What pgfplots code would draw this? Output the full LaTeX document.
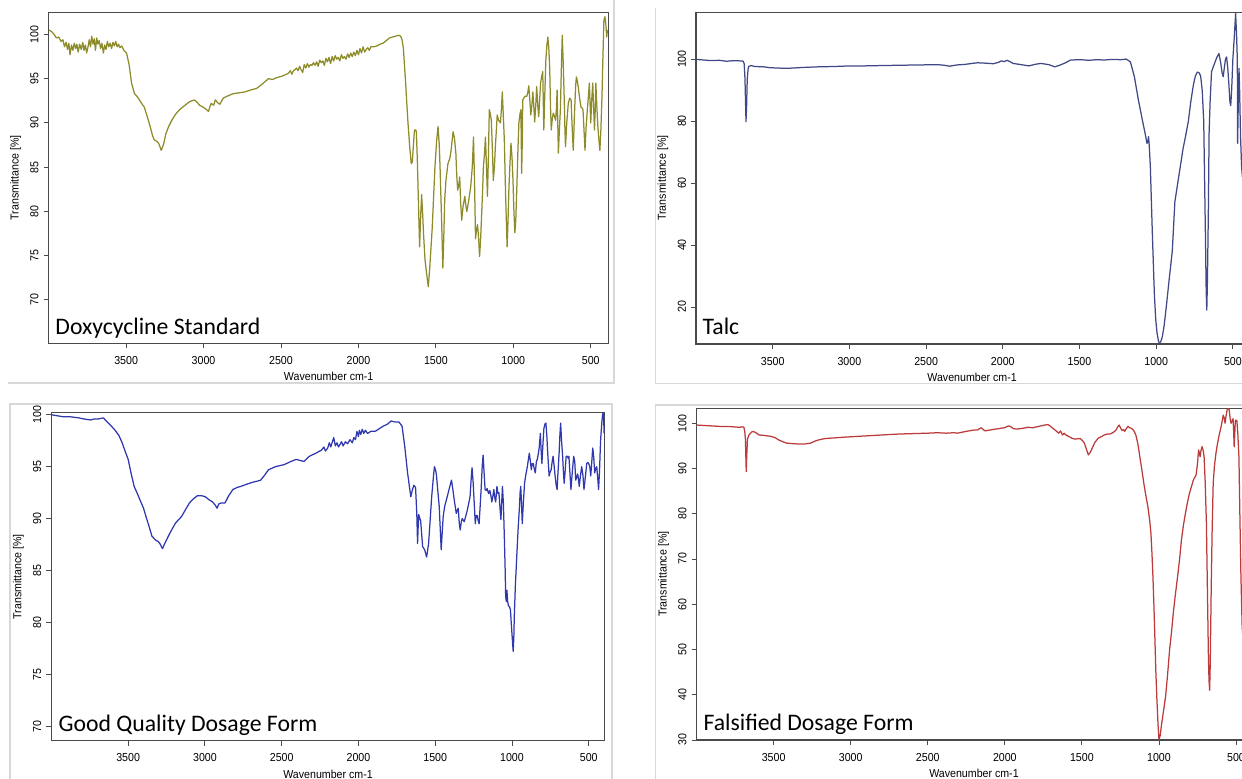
\documentclass[border=0pt]{standalone}
\usepackage{fontspec}
\setmainfont{Liberation Sans}[FakeStretch=0.92]
\newfontfamily\calibri{Carlito}
\usepackage{pgfplots}
\pgfplotsset{compat=1.18}

\definecolor{framegray}{HTML}{D8D8D8}
\definecolor{axgray}{HTML}{4A4A4A}
\definecolor{doxy}{HTML}{8E8C2A}
\definecolor{talc}{HTML}{404985}
\definecolor{good}{HTML}{3038B0}
\definecolor{fals}{HTML}{BC3A3A}

\newcommand\irlabfont{\fontsize{11.6}{13}\selectfont}
\newcommand\irtitlefont{\calibri\fontsize{23.8}{26}\selectfont}

\pgfplotsset{
  ir/.style={
    scale only axis, anchor=south west,
    x dir=reverse,
    tick pos=left, tick align=outside,
    major tick length=5bp,
    axis line style={axgray, line width=1.3bp},
    tick style={axgray, line width=0.9bp},
    xtick={500,1000,...,3500},
    /pgf/number format/assume math mode=true,
    /pgf/number format/1000 sep={},
    xticklabel={\irlabfont\pgfmathprintnumber{\tick}},
    yticklabel={\irlabfont\pgfmathprintnumber{\tick}},
    xticklabel shift=4.5bp,
    yticklabel shift=1.6bp,
    yticklabel style={rotate=90, anchor=south},
    xlabel={\irlabfont Wavenumber cm-1},
    ylabel={\irlabfont Transmittance [\%]},
    every axis x label/.style={at={([yshift=-33.4bp]axis description cs:0.5,0)}, anchor=center},
    every axis y label/.style={at={([xshift=-33bp]axis description cs:0,0.5)}, rotate=90, anchor=center},
    every axis plot/.append style={line width=1.25bp, line join=round, mark=none},
  }
}

\begin{document}
\begin{tikzpicture}[x=1bp, y=1bp]

% Doxycycline standard
\begin{axis}[ir, at={(48.7bp,435.7bp)}, width=560bp, height=331bp,
  xmin=384, xmax=4000, ymin=65.1, ymax=102.5, ytick={70,75,...,100}]
\addplot[doxy] coordinates {
(3998,100.5) (3980,100.3) (3965,100.0) (3950,99.6) (3935,99.7) (3920,99.2) (3908,99.4) (3898,98.6) (3888,99.1) (3878,98.3) (3870,99.0) (3862,97.7) (3853,98.8) (3844,98.2) (3835,99.0) (3826,98.4) (3818,98.9) (3810,98.0) (3800,98.9) (3790,98.3) (3780,99.1) (3772,98.2) (3763,98.8) (3755,97.9) (3746,98.6) (3738,99.4) (3730,98.6) (3722,99.8) (3714,98.9) (3706,99.5) (3698,98.2) (3690,99.6) (3682,98.9) (3674,99.3) (3665,98.4) (3656,99.0) (3647,97.9) (3638,98.8) (3630,98.3) (3621,99.2) (3612,98.6) (3603,99.0) (3594,98.4) (3585,99.1) (3576,98.7) (3567,99.2) (3558,98.6) (3549,98.9) (3540,98.5) (3528,98.7) (3515,98.2) (3497,97.9) (3480,96.5) (3465,94.5) (3446,93.3) (3430,93.0) (3421,92.8) (3400,92.2) (3383,91.8) (3365,90.8) (3345,89.6) (3330,88.6) (3319,88.1) (3300,87.9) (3290,87.7) (3273,86.9) (3258,87.6) (3243,88.8) (3225,89.6) (3205,90.3) (3180,91.0) (3154,91.5) (3120,92.0) (3090,92.4) (3059,92.6) (3040,92.3) (3026,92.0) (3005,91.8) (2988,91.6) (2968,91.3) (2958,91.9) (2950,92.2) (2935,92.0) (2924,92.6) (2910,92.3) (2895,92.1) (2873,92.8) (2850,93.0) (2810,93.3) (2770,93.4) (2733,93.5) (2700,93.7) (2657,93.9) (2620,94.4) (2581,95.0) (2555,94.9) (2530,95.1) (2490,95.3) (2453,95.6) (2440,95.9) (2430,95.5) (2420,95.9) (2410,96.0) (2400,96.2) (2390,95.9) (2380,96.4) (2370,96.0) (2360,95.7) (2350,96.6) (2340,96.2) (2330,96.7) (2320,96.3) (2310,96.6) (2300,96.5) (2290,96.8) (2280,96.5) (2270,96.9) (2260,96.4) (2250,97.1) (2240,96.8) (2230,97.0) (2220,96.5) (2210,97.3) (2200,96.9) (2190,97.4) (2180,96.7) (2170,97.5) (2160,97.0) (2150,97.6) (2140,97.2) (2130,97.4) (2120,97.0) (2110,97.7) (2100,97.3) (2090,97.5) (2080,97.2) (2070,97.8) (2060,97.4) (2050,97.9) (2040,97.5) (2030,98.0) (2020,97.6) (2010,98.2) (2000,97.7) (1990,98.4) (1980,97.9) (1970,98.6) (1960,98.0) (1950,98.3) (1940,98.5) (1930,98.2) (1920,98.6) (1900,98.6) (1880,98.7) (1860,98.9) (1842,99.0) (1820,99.3) (1800,99.6) (1780,99.7) (1760,99.8) (1740,99.9) (1728,99.8) (1720,99.5) (1710,98.5) (1702,96.3) (1695,94.5) (1689,92.6) (1680,90.0) (1669,87.3) (1659,85.4) (1652,85.6) (1645,87.5) (1638,89.2) (1630,89.2) (1626,89.0) (1620,86.0) (1613,81.3) (1605,76.0) (1598,79.5) (1592,81.9) (1586,80.0) (1580,77.6) (1570,74.5) (1560,73.0) (1549,71.5) (1540,73.5) (1524,78.0) (1506,85.0) (1495,88.0) (1486,89.6) (1478,87.5) (1473,85.0) (1463,79.0) (1455,73.6) (1449,77.0) (1443,81.3) (1435,83.5) (1422,85.4) (1410,86.0) (1404,86.6) (1395,88.0) (1389,89.0) (1380,88.3) (1371,86.6) (1365,84.0) (1359,82.4) (1352,83.0) (1346,83.9) (1340,81.0) (1333,79.0) (1325,80.5) (1313,81.7) (1305,80.5) (1300,80.0) (1290,81.0) (1275,82.8) (1265,85.0) (1257,88.4) (1250,83.0) (1244,76.9) (1237,78.0) (1231,78.5) (1224,77.0) (1218,74.9) (1212,76.5) (1205,79.4) (1199,82.0) (1193,85.1) (1186,86.5) (1180,88.4) (1173,85.0) (1167,81.7) (1161,86.0) (1155,91.5) (1148,91.0) (1142,90.3) (1135,87.0) (1129,83.5) (1122,85.0) (1116,87.3) (1110,89.0) (1104,90.9) (1095,90.3) (1083,90.0) (1077,91.5) (1071,93.5) (1065,91.0) (1058,88.1) (1050,82.0) (1040,76.0) (1034,79.0) (1028,82.8) (1020,86.0) (1015,87.7) (1008,86.0) (1002,83.5) (996,80.0) (990,77.6) (984,79.0) (977,82.8) (970,87.0) (964,90.0) (957,91.0) (951,91.5) (946,84.3) (942,88.0) (939,92.6) (925,93.0) (913,93.0) (906,93.5) (900,94.2) (893,92.5) (887,90.9) (880,92.0) (874,93.5) (868,92.0) (862,90.1) (855,92.0) (849,94.1) (842,92.0) (836,90.7) (830,92.5) (824,94.5) (817,95.2) (810,95.8) (806,92.0) (803,89.2) (797,93.0) (790,97.1) (783,98.8) (777,99.7) (771,98.5) (765,96.3) (760,92.0) (755,89.2) (748,90.5) (742,91.1) (735,90.8) (727,90.3) (722,91.5) (717,93.7) (713,90.0) (709,86.6) (703,89.0) (696,91.5) (690,96.0) (684,99.9) (678,97.0) (671,92.6) (667,89.5) (663,87.3) (655,90.0) (645,92.2) (636,92.8) (627,92.6) (620,89.5) (613,86.9) (605,91.0) (598,94.0) (593,95.2) (587,94.8) (581,94.1) (572,92.8) (563,91.8) (556,91.7) (550,91.5) (543,89.0) (537,86.9) (530,89.5) (522,91.5) (515,93.0) (509,94.5) (504,92.0) (500,90.0) (494,92.5) (487,94.5) (481,91.5) (476,89.2) (471,91.5) (467,94.5) (461,92.0) (454,89.6) (447,88.0) (441,86.9) (435,89.0) (428,92.6) (422,97.0) (415,101.6) (408,102.0) (402,101.0) (397,99.7) (392,100.5)
};
\end{axis}

% Talc
\begin{axis}[ir, at={(696bp,435bp)}, width=552.2bp, height=331.7bp,
  xmin=400, xmax=4000, ymin=8.06, ymax=115.1, ytick={20,40,...,100}]
\addplot[talc] coordinates {
(3998,99.9) (3950,99.7) (3900,99.5) (3850,99.6) (3800,99.3) (3750,99.5) (3710,99.4) (3694,99.4) (3686,98.5) (3681,94.0) (3676,84.0) (3674,79.8) (3670,85.0) (3666,93.5) (3660,97.0) (3655,97.7) (3640,97.9) (3617,97.6) (3560,97.5) (3513,97.2) (3460,97.1) (3409,97.0) (3300,97.3) (3202,97.5) (3100,97.6) (2995,97.8) (2900,97.8) (2800,97.9) (2684,98.0) (2550,98.1) (2425,98.2) (2380,98.0) (2347,97.7) (2300,98.1) (2244,98.3) (2200,98.6) (2166,98.8) (2120,98.7) (2062,98.5) (2030,98.9) (2010,99.4) (1990,99.2) (1972,99.6) (1950,99.1) (1933,98.6) (1880,98.2) (1829,97.8) (1790,98.3) (1751,98.6) (1700,98.2) (1661,97.5) (1630,98.0) (1596,98.7) (1557,99.7) (1492,99.8) (1440,99.6) (1389,99.8) (1340,99.7) (1285,99.9) (1230,99.8) (1195,100.0) (1168,99.1) (1142,94.3) (1116,86.8) (1090,80.3) (1072,76.0) (1060,72.8) (1054,73.5) (1050,75.0) (1045,72.0) (1038,65.3) (1025,43.8) (1012,24.4) (1003,16.0) (994,11.5) (985,9.0) (979,8.3) (970,8.8) (960,10.4) (948,14.0) (934,20.1) (915,29.0) (895,38.0) (878,54.0) (850,63.0) (825,71.0) (805,76.0) (790,80.0) (775,86.0) (758,91.5) (745,94.5) (732,95.8) (720,95.6) (710,94.5) (700,90.0) (690,80.0) (684,60.0) (678,40.0) (674,25.0) (670,19.0) (666,28.0) (660,50.0) (655,76.0) (648,86.8) (639,95.9) (628,97.5) (617,98.9) (605,100.5) (591,101.8) (580,99.0) (570,95.5) (563,94.3) (555,97.5) (548,100.0) (541,100.7) (533,97.0) (525,91.0) (519,86.0) (514,85.0) (508,90.0) (500,100.0) (491,107.0) (482,114.7) (476,108.0) (471,100.0) (469,72.8) (465,85.0) (460,97.0) (456,90.0) (450,75.0) (443,65.3) (438,62.0) (430,70.0) (420,80.0) (410,85.0) (400,88.0)
};
\end{axis}

% Good quality dosage form
\begin{axis}[ir, at={(51.4bp,38.3bp)}, width=553.3bp, height=328bp,
  xmin=396, xmax=4000, ymin=68.6, ymax=100.2, ytick={70,75,...,100}]
\addplot[good] coordinates {
(4000,100) (3960,99.9) (3920,99.8) (3873,99.8) (3822,99.7) (3790,99.6) (3745,99.5) (3720,99.6) (3693,99.6) (3662,99.7) (3629,99.2) (3590,98.6) (3560,98.0) (3539,97.3) (3520,96.5) (3500,95.7) (3480,94.3) (3461,93.1) (3440,92.4) (3423,91.8) (3400,91.0) (3384,90.2) (3365,89.3) (3345,88.3) (3320,87.9) (3305,87.8) (3294,87.6) (3276,87.1) (3265,87.5) (3255,87.8) (3235,88.4) (3217,88.9) (3190,89.6) (3152,90.2) (3125,90.9) (3101,91.5) (3075,91.9) (3049,92.2) (3020,92.2) (2998,92.1) (2972,91.8) (2950,91.6) (2933,91.3) (2921,91.0) (2910,91.4) (2895,91.5) (2869,91.5) (2845,92.2) (2818,92.8) (2790,93.0) (2766,93.1) (2730,93.3) (2689,93.5) (2660,93.6) (2637,93.7) (2610,94.2) (2586,94.7) (2540,95.0) (2483,95.2) (2440,95.5) (2406,95.7) (2380,95.6) (2354,95.5) (2320,96.0) (2277,96.3) (2240,96.6) (2225,96.9) (2215,96.5) (2200,96.8) (2190,97.3) (2180,96.9) (2170,97.4) (2161,97.8) (2150,97.0) (2140,97.3) (2130,96.9) (2122,97.1) (2110,97.4) (2100,97.0) (2085,97.4) (2071,97.2) (2055,97.6) (2040,97.3) (2030,97.8) (2019,97.6) (2010,98.4) (2000,97.9) (1994,98.5) (1985,98.1) (1975,98.6) (1965,98.2) (1955,98.5) (1940,98.2) (1920,98.4) (1891,98.4) (1860,98.7) (1839,98.9) (1810,99.1) (1788,99.4) (1760,99.3) (1736,99.3) (1716,98.9) (1698,96.9) (1680,94.4) (1659,92.1) (1648,92.8) (1639,93.2) (1628,93.0) (1620,90.5) (1615,87.6) (1608,90.4) (1600,90.0) (1595,89.8) (1588,88.5) (1582,87.3) (1569,87.0) (1556,86.3) (1543,87.6) (1530,90.5) (1523,92.1) (1510,94.3) (1505,95.0) (1498,94.7) (1492,94.2) (1482,92.5) (1474,91.2) (1461,87.0) (1455,88.5) (1448,90.2) (1438,91.2) (1427,91.8) (1410,92.8) (1394,93.7) (1385,92.8) (1376,91.8) (1363,90.5) (1356,90.8) (1350,91.0) (1343,89.5) (1337,88.9) (1330,89.7) (1324,90.0) (1311,89.7) (1300,90.3) (1291,90.8) (1280,91.6) (1273,92.1) (1265,94.0) (1260,94.9) (1253,93.5) (1247,91.8) (1239,89.5) (1233,90.3) (1227,90.3) (1220,89.8) (1214,89.5) (1208,91.0) (1201,92.8) (1194,95.0) (1188,96.1) (1182,94.5) (1175,92.8) (1168,92.7) (1162,92.9) (1152,92.4) (1144,92.7) (1137,92.2) (1131,91.6) (1124,92.2) (1118,92.8) (1112,92.0) (1106,91.6) (1098,93.1) (1091,92.4) (1085,92.5) (1078,91.0) (1072,89.9) (1067,91.5) (1062,93.1) (1056,91.5) (1051,88.9) (1045,85.5) (1041,82.5) (1037,82.0) (1033,83.1) (1028,82.0) (1023,81.6) (1016,81.5) (1010,81.2) (1005,80.0) (1000,78.9) (996,78.0) (992,77.2) (988,78.5) (985,80.5) (978,83.5) (969,86.3) (960,89.0) (951,91.2) (947,92.5) (943,93.1) (938,91.5) (933,89.5) (926,91.5) (918,93.4) (910,94.2) (900,95.0) (894,95.6) (887,96.3) (880,95.5) (874,94.7) (868,95.3) (861,95.3) (855,94.8) (848,94.4) (841,95.5) (835,95.7) (829,96.2) (823,96.8) (819,97.5) (815,98.2) (810,96.5) (805,95.3) (799,97.0) (792,98.7) (785,99.1) (779,99.2) (773,98.0) (769,96.8) (763,95.3) (758,94.1) (751,94.5) (745,94.7) (738,95.5) (732,96.0) (725,95.0) (719,94.1) (712,93.2) (706,92.8) (700,94.5) (693,96.3) (688,98.0) (683,99.2) (677,97.5) (670,96.0) (665,94.5) (660,93.4) (654,94.5) (647,96.0) (640,96.0) (633,95.8) (629,96.0) (623,94.5) (616,92.8) (607,94.5) (598,96.0) (591,95.5) (585,93.7) (578,94.0) (572,94.3) (567,93.8) (562,93.1) (555,94.0) (546,95.0) (538,94.2) (531,92.8) (522,94.0) (513,95.3) (506,95.4) (500,95.3) (493,95.0) (487,94.1) (480,95.5) (474,96.8) (468,96.0) (461,94.4) (455,94.8) (448,95.0) (442,94.0) (436,92.8) (430,94.5) (423,97.5) (416,99.0) (410,100.0) (404,100.3) (400,98.2)
};
\end{axis}

% Falsified dosage form
\begin{axis}[ir, at={(696.6bp,39bp)}, width=554.8bp, height=331.7bp,
  xmin=400, xmax=4000, ymin=30, ymax=103.3, ytick={30,40,...,100}]
\addplot[fals] coordinates {
(4000,99.6) (3950,99.5) (3900,99.4) (3853,99.3) (3800,99.3) (3760,99.2) (3724,99.1) (3700,99.2) (3693,99.1) (3687,98.0) (3683,96.3) (3680,92.0) (3678,89.3) (3675,92.5) (3670,96.5) (3660,97.4) (3645,98.0) (3634,98.2) (3615,97.9) (3595,97.4) (3560,97.3) (3518,97.1) (3490,96.8) (3467,96.3) (3440,95.9) (3415,95.6) (3380,95.5) (3338,95.4) (3300,95.4) (3261,95.6) (3235,96.0) (3209,96.3) (3170,96.6) (3132,96.7) (3050,96.9) (2952,97.1) (2850,97.3) (2750,97.5) (2694,97.6) (2600,97.7) (2500,97.8) (2437,97.9) (2380,97.8) (2330,97.9) (2308,97.8) (2250,98.2) (2200,98.5) (2179,98.5) (2153,99.0) (2140,98.6) (2128,98.3) (2080,98.6) (2040,98.8) (2025,98.9) (2000,99.0) (1985,99.3) (1973,99.4) (1960,99.2) (1945,98.8) (1922,98.7) (1880,98.9) (1850,99.1) (1819,99.0) (1780,99.3) (1741,99.6) (1720,99.7) (1703,99.3) (1685,98.8) (1664,98.2) (1650,97.8) (1639,98.3) (1626,97.4) (1615,97.8) (1608,97.5) (1587,97.1) (1565,96.7) (1548,96.5) (1510,96.6) (1495,96.1) (1484,95.6) (1470,94.2) (1458,93.0) (1445,93.6) (1433,94.5) (1415,95.8) (1394,96.7) (1375,97.0) (1355,97.4) (1335,97.6) (1317,97.6) (1295,98.0) (1278,98.5) (1268,99.2) (1258,99.6) (1250,99.0) (1240,98.4) (1230,98.6) (1222,98.2) (1212,98.8) (1201,99.3) (1190,99.0) (1175,98.8) (1162,98.3) (1150,97.4) (1137,95.5) (1124,92.6) (1110,89.5) (1098,86.7) (1085,84.0) (1072,81.6) (1060,78.5) (1052,75.7) (1045,71.0) (1039,66.1) (1032,59.0) (1026,52.1) (1020,45.0) (1013,38.8) (1006,33.5) (1000,30.1) (992,31.0) (982,33.7) (970,36.5) (957,39.6) (945,44.0) (931,49.9) (918,54.0) (905,58.7) (892,62.5) (879,66.1) (866,70.0) (854,74.2) (841,77.5) (828,80.1) (815,82.5) (802,84.5) (789,86.0) (776,87.5) (765,88.2) (759,88.6) (750,91.0) (743,94.1) (738,93.5) (733,92.6) (727,94.0) (720,94.8) (713,94.0) (707,92.6) (700,87.0) (692,77.9) (685,62.0) (679,48.4) (675,43.0) (671,41.0) (667,47.0) (661,63.2) (655,76.0) (648,86.7) (640,90.5) (630,93.4) (620,95.5) (609,97.4) (595,99.5) (583,101.8) (577,101.2) (571,100.0) (565,101.5) (558,102.9) (550,103.3) (545,103.1) (538,101.0) (532,100.0) (525,100.5) (519,101.0) (515,98.0) (512,94.8) (508,97.5) (505,100.2) (501,100.7) (494,100.5) (488,97.5) (481,92.6) (475,80.0) (468,66.1) (460,55.0) (450,50.0) (440,55.0) (420,65.0) (400,70.0)
};
\end{axis}

% panel titles
\node[anchor=base west, inner sep=0] at (55.3,444.7) {\irtitlefont Doxycycline Standard};
\node[anchor=base west, inner sep=0] at (702.5,444) {\irtitlefont Talc};
\node[anchor=base west, inner sep=0] at (58.5,47.3) {\irtitlefont Good Quality Dosage Form};
\node[anchor=base west, inner sep=0] at (703.3,48.3) {\irtitlefont Falsified Dosage Form};

% screenshot frames
\draw[framegray, line width=1.5bp] (8,396) -- (614,396) -- (614,779);
\draw[framegray, line width=1.5bp] (655.7,771) -- (655.7,395.7) -- (1242,395.7);
\draw[framegray, line width=1.5bp] (10,0) -- (10,375) -- (612,375) -- (612,0);
\draw[framegray, line width=1.5bp] (655.7,0) -- (655.7,374) -- (1242,374);

\pgfresetboundingbox
\path[use as bounding box] (0,0) rectangle (1242,779);
\end{tikzpicture}
\end{document}
